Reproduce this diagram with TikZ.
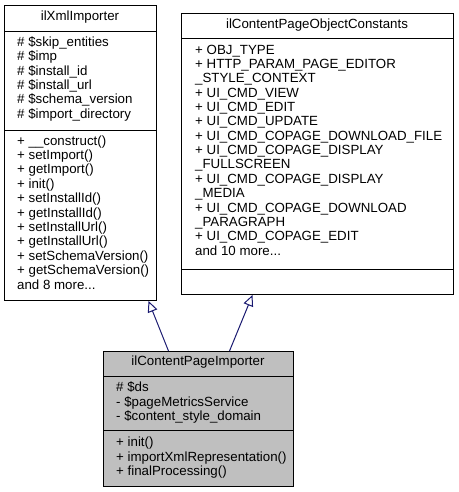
\documentclass[tikz,border=0pt]{standalone}
\usepackage{fontspec}
\setmainfont{Liberation Sans}
\usetikzlibrary{calc, arrows.meta, positioning}

\definecolor{navy}{HTML}{191970}
\definecolor{boxgray}{HTML}{BFBFBF}
\newcommand{\moredots}{...}

\tikzset{
  classbox/.style={draw=black, line width=1pt, fill=white, anchor=north west, inner sep=0pt},
  member/.style={anchor=west, inner sep=0pt, text height=9.5pt, text depth=2.8pt},
  classname/.style={inner sep=0pt, text height=9.5pt, text depth=2.8pt},
  sepline/.style={draw=black, line width=1pt},
  inherit/.style={draw=navy, line width=1pt, -{Triangle[open, length=11pt, width=10pt]}},
}

\begin{document}
\begin{tikzpicture}[x=1pt, y=-1pt, font=\fontsize{13.3}{14.4}\selectfont]
\useasboundingbox (0,0) rectangle (458,492);

% base class ilXmlImporter
\node[classbox, minimum width=152pt, minimum height=295pt] (xml) at (4,5) {};
\node[classname] (xmlname) at (80,17) {ilXmlImporter};
\draw[sepline] (4,32) -- (156,32);
\draw[sepline] (4,130) -- (156,130);
\foreach \txt [count=\i from 0] in {\# \$skip\_entities, \# \$imp, \# \$install\_id,
    \# \$install\_url, \# \$schema\_version, \# \$import\_directory}
  \node[member] at (17,43+14.4*\i) {\txt};
\foreach \txt [count=\i from 0] in {+ \_\_construct(), + setImport(), + getImport(),
    + init(), + setInstallId(), + getInstallId(), + setInstallUrl(), + getInstallUrl(),
    + setSchemaVersion(), + getSchemaVersion(), and 8 more\moredots}
  \node[member] at (17,141.7+14.4*\i) {\txt};

% base class ilContentPageObjectConstants
\node[classbox, minimum width=272pt, minimum height=281pt] (cpo) at (181,13) {};
\node[classname] (cponame) at (317,25) {ilContentPageObjectConstants};
\draw[sepline] (181,38.5) -- (453,38.5);
\draw[sepline] (181,269) -- (453,269);
\foreach \txt [count=\i from 0] in {+ OBJ\_TYPE, + HTTP\_PARAM\_PAGE\_EDITOR, \_STYLE\_CONTEXT,
    + UI\_CMD\_VIEW, + UI\_CMD\_EDIT, + UI\_CMD\_UPDATE, + UI\_CMD\_COPAGE\_DOWNLOAD\_FILE,
    + UI\_CMD\_COPAGE\_DISPLAY, \_FULLSCREEN, + UI\_CMD\_COPAGE\_DISPLAY, \_MEDIA,
    + UI\_CMD\_COPAGE\_DOWNLOAD, \_PARAGRAPH, + UI\_CMD\_COPAGE\_EDIT, and 10 more\moredots}
  \node[member] at (195,50.7+14.36*\i) {\txt};

% derived class ilContentPageImporter
\node[classbox, fill=boxgray, minimum width=190pt, minimum height=135pt] (imp) at (103,351) {};
\node[classname] (impname) at (198,362) {ilContentPageImporter};
\draw[sepline] (103,376) -- (293,376);
\draw[sepline] (103,430) -- (293,430);
\foreach \txt [count=\i from 0] in {\# \$ds, - \$pageMetricsService, - \$content\_style\_domain}
  \node[member] at (116,388.3+14.4*\i) {\txt};
\foreach \txt [count=\i from 0] in {+ init(), + importXmlRepresentation(), + finalProcessing()}
  \node[member] at (116,443.3+14.6*\i) {\txt};

% inheritance
\draw[inherit] ($(imp.north)+(-30,0)$) -- ($(xml.south)+(68,0)$);
\draw[inherit] ($(imp.north)+(31,0)$) -- ($(cpo.south)+(-65,0)$);

\end{tikzpicture}
\end{document}
